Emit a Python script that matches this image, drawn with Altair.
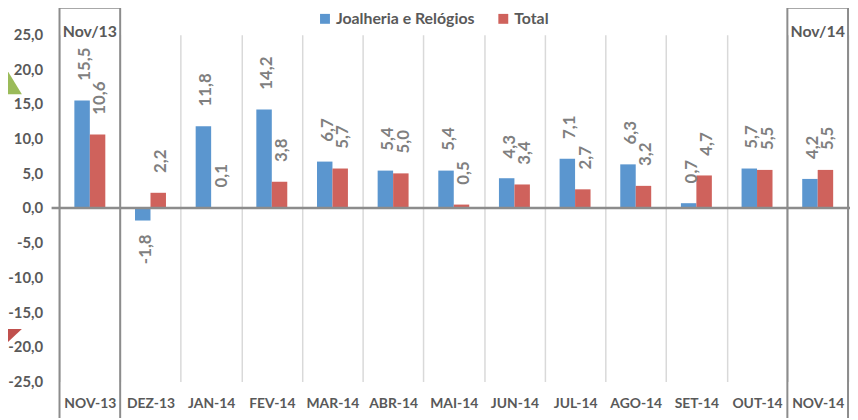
import altair as alt
import pandas as pd

months = ["NOV-13", "DEZ-13", "JAN-14", "FEV-14", "MAR-14", "ABR-14", "MAI-14",
          "JUN-14", "JUL-14", "AGO-14", "SET-14", "OUT-14", "NOV-14"]
joalheria = [15.5, -1.8, 11.8, 14.2, 6.7, 5.4, 5.4, 4.3, 7.1, 6.3, 0.7, 5.7, 4.2]
total = [10.6, 2.2, 0.1, 3.8, 5.7, 5.0, 0.5, 3.4, 2.7, 3.2, 4.7, 5.5, 5.5]
series_names = ["Joalheria e Relógios", "Total"]
series_colors = ["#5B96CF", "#CF625C"]
box_months = ["NOV-13", "NOV-14"]
box_labels = ["Nov/13", "Nov/14"]
y_ticks = [-25, -20, -15, -10, -5, 0, 5, 10, 15, 20, 25]

rows = []
for m, a, b in zip(months, joalheria, total):
    rows.append({"mes": m, "serie": series_names[0], "v": a})
    rows.append({"mes": m, "serie": series_names[1], "v": b})
df = pd.DataFrame(rows)
boxes = pd.DataFrame({"mes": box_months, "label": box_labels})

FONT = "Lato"
W, H = 796, 350
FMT = "replace(replace(format({v}, '.1f'), '.', ','), '\u2212', '-')"

xaxis = alt.Axis(tickBand="extent", grid=True, gridColor="#D9D9D9",
                 gridWidth=1.5, ticks=False, domain=False,
                 labelAngle=0, labelPadding=15, labelFontSize=14,
                 labelFontWeight="bold", labelColor="#595959",
                 labelFont=FONT, labelOverlap=False)
yaxis = alt.Axis(values=y_ticks,
                 labelExpr=FMT.format(v="datum.value"),
                 grid=False, ticks=False, domain=False, labelPadding=17,
                 labelFontSize=15, labelFontWeight="bold",
                 labelColor="#595959", labelFont=FONT,
                 labelOverlap=False, labelBound=False)
xscale = alt.Scale(paddingInner=0, paddingOuter=0)
yscale = alt.Scale(domain=[-25, 25], nice=False, zero=False)
xenc = alt.X("mes:N", sort=months, title=None, scale=xscale, axis=xaxis)
yenc = alt.Y("v:Q", scale=yscale, title=None, axis=yaxis)
xoff = alt.XOffset("serie:N", sort=series_names,
                   scale=alt.Scale(paddingInner=0, paddingOuter=0.96))

base = alt.Chart(df)

bars = base.mark_bar().encode(
    x=xenc,
    xOffset=xoff,
    y=yenc,
    y2=alt.datum(0),
    color=alt.Color("serie:N", sort=series_names,
                    scale=alt.Scale(domain=series_names, range=series_colors),
                    legend=alt.Legend(title=None, orient="none", direction="horizontal",
                                      legendX=260, legendY=-24, symbolType="square",
                                      symbolSize=100, symbolStrokeWidth=0,
                                      labelFontSize=16, labelFontWeight="bold",
                                      labelColor="#595959", labelFont=FONT,
                                      columnPadding=20, labelOffset=3)),
)

lab = base.transform_calculate(t=FMT.format(v="datum.v"))
pos_labels = lab.transform_filter("datum.v >= 0").mark_text(
    angle=270, align="left", baseline="middle", dx=20, dy=3,
    fontSize=17, fontWeight="bold", color="#7F7F7F", font=FONT
).encode(x=xenc, xOffset=xoff, y=yenc, text="t:N")
neg_labels = lab.transform_filter("datum.v < 0").mark_text(
    angle=270, align="right", baseline="middle", dx=-14, dy=3,
    fontSize=17, fontWeight="bold", color="#7F7F7F", font=FONT
).encode(x=xenc, xOffset=xoff, y=yenc, text="t:N")

zero_line = alt.Chart(pd.DataFrame({"v": [0]})).mark_rule(
    color="#8C8C8C", strokeWidth=2.5
).encode(y=yenc, x=alt.value(-8), x2=alt.value(W + 4))

box_df = boxes.assign(v=28.9, v2=-32.0, vt=25.4)
box_rect = alt.Chart(box_df).mark_rect(
    filled=False, stroke="#8C8C8C", strokeWidth=2
).encode(x=xenc, y=yenc, y2="v2:Q")
box_text = alt.Chart(box_df).transform_calculate(v="datum.vt").mark_text(
    fontSize=16, fontWeight="bold", color="#595959", font=FONT, baseline="middle"
).encode(x=xenc, y=yenc, text="label:N")

deco = pd.DataFrame({"k": [0]})
green_tri = alt.Chart(deco).mark_point(
    shape="M0,-0.8125L1,0.8125L-1,0.8125Z", filled=True, opacity=1,
    color="#9BBB59", size=2304, strokeWidth=0
).encode(x=alt.value(-62), y=alt.value(40.5))
red_tri = alt.Chart(deco).mark_point(
    shape="M-1,-0.47L1,-0.47L0,0.47Z", filled=True, opacity=1,
    color="#C0504D", size=2304, strokeWidth=0
).encode(x=alt.value(-62), y=alt.value(308.3))

chart = alt.layer(
    bars, zero_line, pos_labels, neg_labels, box_rect, box_text, green_tri, red_tri
).properties(
    width=W, height=H,
    autosize=alt.AutoSizeParams(type="none"),
    padding={"left": 52, "top": 25, "right": 2, "bottom": 35},
    background="white",
).configure_view(stroke=None).configure_axis(labelOverlap=False)

chart.save("out.html", embed_options={"renderer": "svg", "actions": False})
